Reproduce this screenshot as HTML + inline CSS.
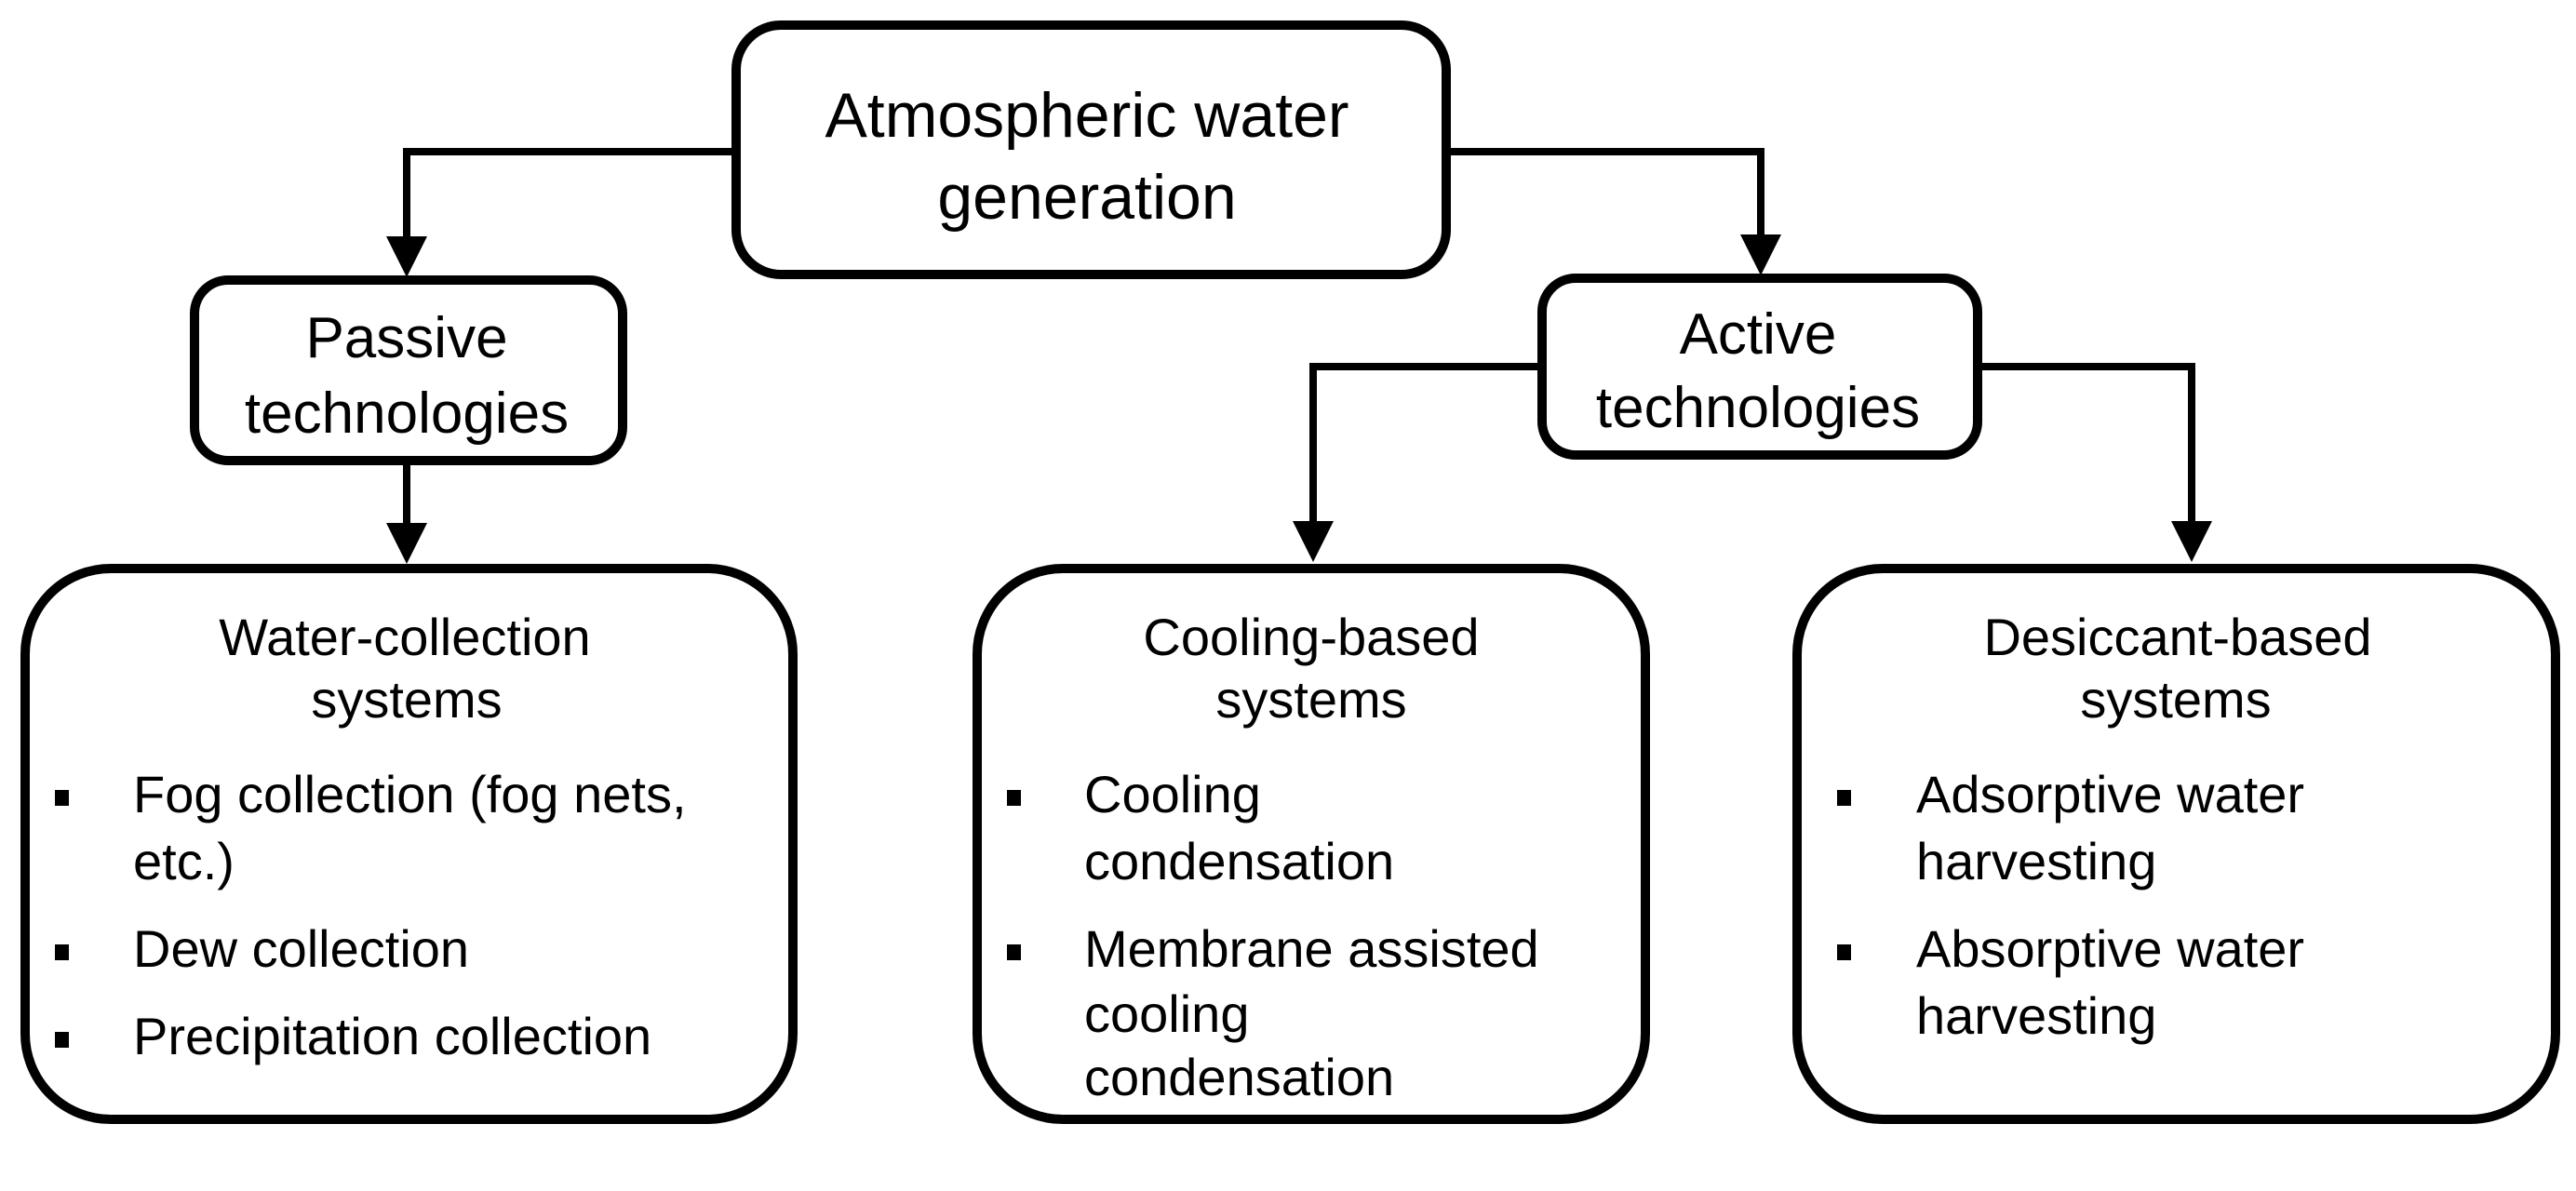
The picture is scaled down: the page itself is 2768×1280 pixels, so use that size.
<!DOCTYPE html>
<html><head><meta charset="utf-8"><style>html,body{margin:0;padding:0;background:#fff}svg{display:block}svg text{font-family:"Liberation Sans",Arial,sans-serif}</style></head>
<body>
<svg width="2768" height="1280" viewBox="0 0 2768 1280" xmlns="http://www.w3.org/2000/svg" style="font-family:'Liberation Sans',Arial,sans-serif" fill="#000">
<g fill="none" stroke="#000" stroke-width="10">
<rect x="791" y="27" width="763" height="268" rx="48"/>
<rect x="209" y="301" width="460" height="194" rx="36"/>
<rect x="1657" y="299" width="468" height="190" rx="36"/>
<rect x="27" y="611" width="825" height="592" rx="92"/>
<rect x="1050" y="611" width="718" height="592" rx="92"/>
<rect x="1931" y="611" width="815" height="592" rx="92"/>
</g>
<g fill="none" stroke="#000" stroke-width="8">
<polyline points="786,163 437,163 437,262"/>
<polyline points="1559,163 1892,163 1892,260"/>
<line x1="437" y1="500" x2="437" y2="570"/>
<polyline points="1652,394 1411,394 1411,568"/>
<polyline points="2130,394 2355,394 2355,568"/>
</g>
<g>
<polygon points="415,254 459,254 437,298"/>
<polygon points="1870,252 1914,252 1892,296"/>
<polygon points="415,562 459,562 437,606"/>
<polygon points="1389,560 1433,560 1411,604"/>
<polygon points="2333,560 2377,560 2355,604"/>
</g>
<g font-size="68" text-anchor="middle">
<text x="1168" y="147">Atmospheric water</text>
<text x="1168" y="235">generation</text>
</g>
<g font-size="62" text-anchor="middle">
<text x="437" y="384">Passive</text>
<text x="437" y="465">technologies</text>
<text x="1889" y="380">Active</text>
<text x="1889" y="459">technologies</text>
</g>
<g font-size="56" text-anchor="middle">
<text x="435" y="704">Water-collection</text>
<text x="437" y="771">systems</text>
<text x="1409" y="704">Cooling-based</text>
<text x="1409" y="771">systems</text>
<text x="2340" y="704">Desiccant-based</text>
<text x="2338" y="771">systems</text>
</g>
<g>
<rect x="59" y="849" width="15" height="17"/>
<rect x="59" y="1015" width="15" height="17"/>
<rect x="59" y="1109" width="15" height="17"/>
<rect x="1082" y="849" width="15" height="17"/>
<rect x="1082" y="1015" width="15" height="17"/>
<rect x="1974" y="849" width="15" height="17"/>
<rect x="1974" y="1015" width="15" height="17"/>
</g>
<g font-size="56">
<text x="143" y="873">Fog collection (fog nets,</text>
<text x="143" y="945">etc.)</text>
<text x="143" y="1039">Dew collection</text>
<text x="143" y="1133">Precipitation collection</text>
<text x="1165" y="873">Cooling</text>
<text x="1165" y="945">condensation</text>
<text x="1165" y="1039">Membrane assisted</text>
<text x="1165" y="1109">cooling</text>
<text x="1165" y="1177">condensation</text>
<text x="2059" y="873">Adsorptive water</text>
<text x="2059" y="945">harvesting</text>
<text x="2059" y="1039">Absorptive water</text>
<text x="2059" y="1111">harvesting</text>
</g>
</svg>
</body></html>
